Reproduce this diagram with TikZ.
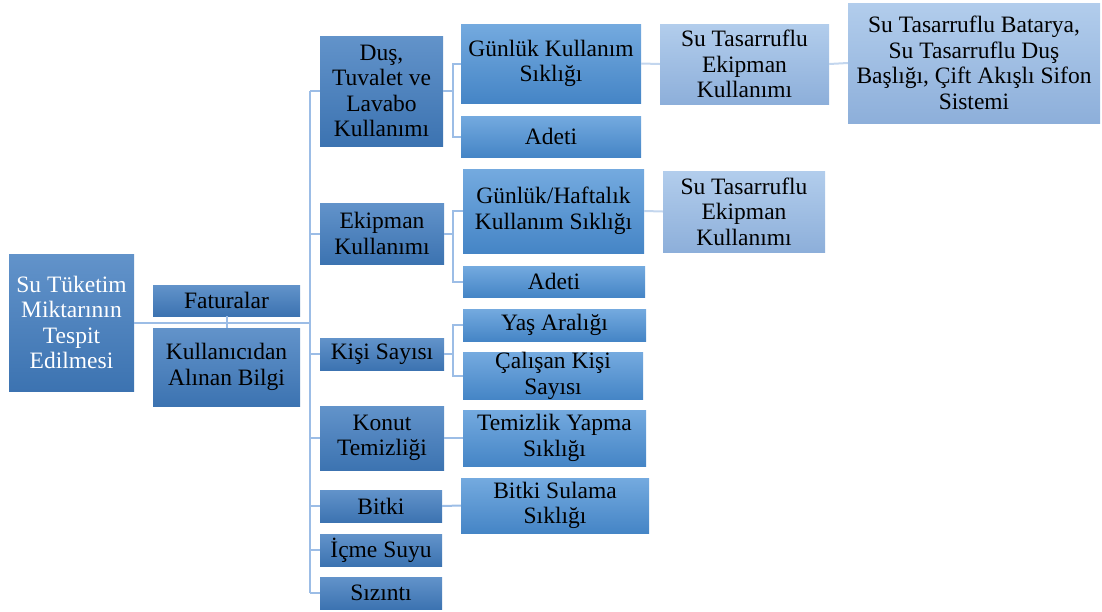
\documentclass[tikz,border=0pt]{standalone}
\usepackage{fontspec}
\setmainfont{Liberation Serif}
\definecolor{kopu}{HTML}{6293CA}
\definecolor{koal}{HTML}{3C73B1}
\definecolor{orust}{HTML}{74AADF}
\definecolor{orort}{HTML}{5C9CD7}
\definecolor{oralt}{HTML}{4585C6}
\definecolor{acust}{HTML}{B2CDEC}
\definecolor{acalt}{HTML}{8DAFDA}
\definecolor{hat}{HTML}{9CBDE6}
\definecolor{achat}{HTML}{C3D6EE}

\begin{document}
\begin{tikzpicture}[x=1pt,y=-1pt,
  kutu/.style={rectangle,inner sep=0pt,align=center,font=\fontsize{23.5}{25.5}\selectfont},
  koyu/.style={kutu,top color=kopu,bottom color=koal},
  orta/.style={kutu,top color=orust,middle color=orort,bottom color=oralt},
  acik/.style={kutu,top color=acust,bottom color=acalt},
  hatt/.style={draw=hat,line width=2pt},
  achatt/.style={draw=achat,line width=2pt}]
  \useasboundingbox (0,0) rectangle (1102,611);
  % ana kutu ve ilk dallar
  \node[koyu,text=white,minimum width=125,minimum height=137] (kok) at (71.5,322.5)
    {Su T\"uketim\\Miktar\i n\i n\\Tespit\\Edilmesi};
  \node[koyu,minimum width=147,minimum height=31] (fatura) at (226.5,300.5) {Faturalar};
  \node[koyu,minimum width=147,minimum height=78] (bilgi) at (226.5,367) {Kullan\i c\i dan\\Al\i nan Bilgi};
  % ikinci seviye
  \node[koyu,minimum width=123,minimum height=110] (dus) at (381.5,91) {Du\c s,\\Tuvalet ve\\Lavabo\\Kullan\i m\i};
  \node[koyu,minimum width=124,minimum height=61] (ekip) at (382,233.5) {Ekipman\\Kullan\i m\i};
  \node[koyu,minimum width=124,minimum height=32] (kisi) at (382,354) {Ki\c si Say\i s\i};
  \node[koyu,minimum width=124,minimum height=64] (konut) at (382,438) {Konut\\Temizli\u gi};
  \node[koyu,minimum width=122,minimum height=32] (bitki) at (381,506) {Bitki};
  \node[koyu,minimum width=122,minimum height=32] (icme) at (381,550) {\.I\c cme Suyu};
  \node[koyu,minimum width=122,minimum height=32] (sizinti) at (381,593) {S\i z\i nt\i};
  % ucuncu seviye
  \node[orta,minimum width=180,minimum height=79] (gunluk) at (551,63.5) {G\"unl\"uk Kullan\i m\\S\i kl\i\u g\i};
  \node[orta,minimum width=180,minimum height=41] (adetA) at (551,136.5) {Adeti};
  \node[orta,minimum width=181,minimum height=84] (haftalik) at (553.5,211) {G\"unl\"uk/Haftal\i k\\Kullan\i m S\i kl\i\u g\i};
  \node[orta,minimum width=182,minimum height=31] (adetB) at (554,281.5) {Adeti};
  \node[orta,minimum width=183,minimum height=32] (yas) at (554.5,325) {Ya\c s Aral\i\u g\i};
  \node[orta,minimum width=180,minimum height=46] (calisan) at (553,376) {\c Cal\i\c san Ki\c si\\Say\i s\i};
  \node[orta,minimum width=183,minimum height=56] (temizlik) at (554.5,438) {Temizlik Yapma\\S\i kl\i\u g\i};
  \node[orta,minimum width=188,minimum height=55] (sulama) at (555,505.5) {Bitki Sulama\\S\i kl\i\u g\i};
  % dorduncu seviye
  \node[acik,minimum width=169,minimum height=80] (tasA) at (744.5,64) {Su Tasarruflu\\Ekipman\\Kullan\i m\i};
  \node[acik,minimum width=252,minimum height=120] (batarya) at (974,63)
    {Su Tasarruflu Batarya,\\Su Tasarruflu Du\c s\\Ba\c sl\i\u g\i, \c Cift Ak\i\c sl\i{} Sifon\\Sistemi};
  \node[acik,minimum width=162,minimum height=81] (tasB) at (744,211.5) {Su Tasarruflu\\Ekipman\\Kullan\i m\i};
  % baglantilar
  \coordinate (govdeUst) at (310,91);
  \coordinate (govdeAlt) at (310,593);
  \draw[hatt] (govdeUst) -- (govdeAlt);
  \draw[hatt] (kok.east) -- (kok.east -| govdeUst);
  \draw[hatt] (fatura.south) -- (bilgi.north);
  \foreach \n in {dus,ekip,kisi,konut,bitki,icme,sizinti}
    \draw[hatt] (\n.west -| govdeUst) -- (\n.west);
  \draw[hatt] (dus.east) -- +(10,0) |- (gunluk.west);
  \draw[hatt] (dus.east) -- +(10,0) |- (adetA.west);
  \draw[hatt] (ekip.east) -- +(9,0) |- (haftalik.west);
  \draw[hatt] (ekip.east) -- +(9,0) |- (adetB.west);
  \draw[hatt] (kisi.east) -- +(9,0) |- (yas.west);
  \draw[hatt] (kisi.east) -- +(9,0) |- (calisan.west);
  \draw[hatt] (konut.east) -- (temizlik.west);
  \draw[hatt] (bitki.east) -- (sulama.west);
  \draw[achatt] (gunluk.east) -- (tasA.west);
  \draw[achatt] (tasA.east) -- (batarya.west);
  \draw[achatt] (haftalik.east) -- (tasB.west);
\end{tikzpicture}
\end{document}
